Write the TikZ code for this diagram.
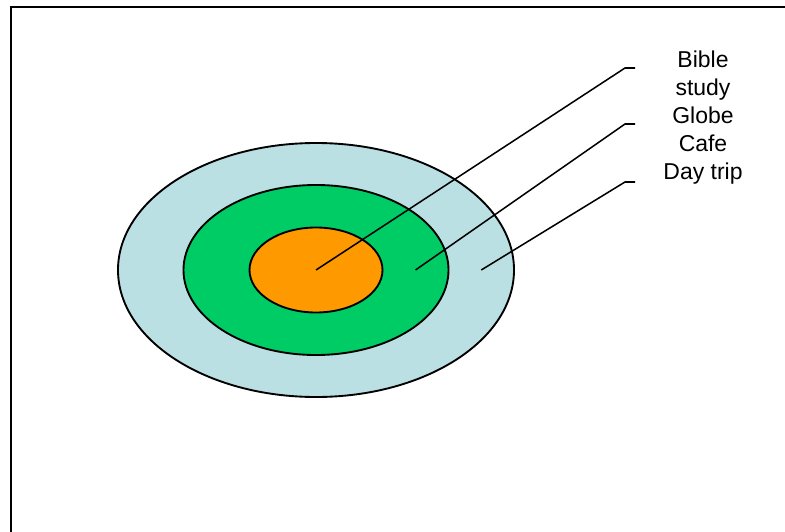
\documentclass[tikz,border=0pt]{standalone}
\usepackage{fontspec}
\setsansfont{Liberation Sans}
\usetikzlibrary{shapes.geometric,calc}
\definecolor{dayblue}{HTML}{BBE0E3}
\definecolor{cafegreen}{HTML}{00CC66}
\definecolor{bibleorange}{HTML}{FF9900}
\tikzset{
  font=\sffamily,
  ring/.style={ellipse, draw=black, line width=1.6pt, inner sep=0pt, outer sep=0pt},
  leader/.style={draw=black, line width=1.3pt},
  lbl/.style={font=\sffamily\fontsize{19.6}{23.8}\selectfont, align=center, inner sep=0pt, anchor=north},
  frame/.style={draw=black, line width=2.4pt},
}
\begin{document}
\begin{tikzpicture}[x=0.03cm, y=-0.03cm]
\clip (0,0) rectangle (785,531);
\useasboundingbox (0,0) rectangle (785,531);
\draw[frame] (11,560) -- (11,7) -- (810,7);
% --- target rings (pixel grid, y down)
\node[ring, fill=dayblue, minimum width=11.88cm, minimum height=7.62cm] (day) at (316,270) {};
\node[ring, fill=cafegreen, minimum width=7.95cm, minimum height=5.1cm] (cafe) at (316,270) {};
\node[ring, fill=bibleorange, minimum width=3.99cm, minimum height=2.55cm] (bible) at (316,270) {};
% --- labels
\node[lbl] (biblelbl) at (703,51) {Bible\\study};
\node[lbl] (cafelbl) at (703,107) {Globe\\Cafe};
\node[lbl] (daylbl) at (703,163) {Day trip};
% --- leader lines
\coordinate (k1) at (625,68);
\coordinate (t1) at (635,68);
\coordinate (k2) at (625,124);
\coordinate (t2) at (635,124);
\coordinate (k3) at (625,182);
\coordinate (t3) at (635,182);
\draw[leader] (bible.center) -- (k1) -- (t1);
\draw[leader] ($(bible.east)!0.5!(cafe.east)$) -- (k2) -- (t2);
\draw[leader] ($(cafe.east)!0.5!(day.east)$) -- (k3) -- (t3);
\end{tikzpicture}
\end{document}
